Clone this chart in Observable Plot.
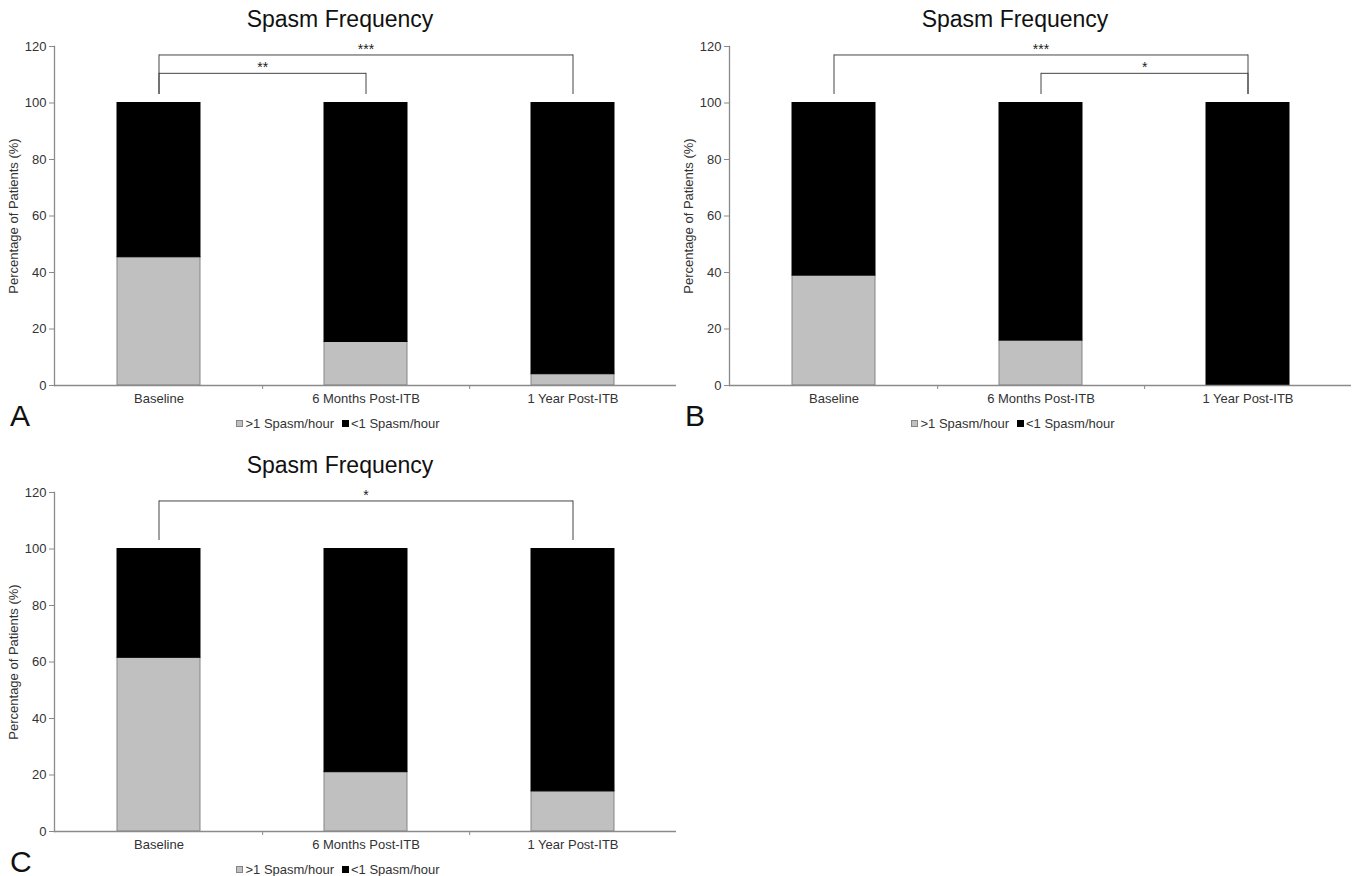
<!DOCTYPE html>
<html>
<head>
<meta charset="utf-8">
<script src="https://cdn.jsdelivr.net/npm/d3@7"></script>
<script src="https://cdn.jsdelivr.net/npm/@observablehq/plot@0.6"></script>
<style>
  html, body { margin: 0; padding: 0; background: #fff; }
  body { width: 1353px; height: 876px; position: relative; overflow: hidden;
         font-family: "Liberation Sans", Arial, sans-serif; color: #222; }
  .panel { position: absolute; width: 676px; height: 440px; }
  .title { position: absolute; left: 2px; top: 8px; width: 676px; text-align: center;
           font-size: 23px; line-height: 23px; color: #111; }
  .letter { position: absolute; left: 10px; top: 401px; font-size: 30px; line-height: 30px; color: #111; }
  .legend { position: absolute; left: 0; top: 415px; width: 676px; text-align: center;
            font-size: 13px; line-height: 18px; color: #333; }
  .legend .item { display: inline-block; margin: 0 4px; }
  .legend .sw { display: inline-block; width: 7px; height: 7px; margin-right: 2px; vertical-align: 1px; box-sizing: border-box; }
</style>
</head>
<body>
<script>
// ---- data ----
const categories = ["Baseline", "6 Months Post-ITB", "1 Year Post-ITB"];
const seriesNames = [">1 Spasm/hour", "<1 Spasm/hour"];
const yTicks = [0, 20, 40, 60, 80, 100, 120];
const titleText = "Spasm Frequency";
const yLabel = "Percentage of Patients (%)";

// Panel A
const aAbove = [45.4, 15.4, 4.0];
const aBelow = [54.6, 84.6, 96.0];
const aBrackets = [
  {from: "Baseline", to: "1 Year Post-ITB", y: 117, leg: 103, label: "***"},
  {from: "Baseline", to: "6 Months Post-ITB", y: 110.5, leg: 103, label: "**"}
];
// Panel B
const bAbove = [38.9, 15.9, 0];
const bBelow = [61.1, 84.1, 100];
const bBrackets = [
  {from: "Baseline", to: "1 Year Post-ITB", y: 117, leg: 103, label: "***"},
  {from: "6 Months Post-ITB", to: "1 Year Post-ITB", y: 110.5, leg: 103, label: "*"}
];
// Panel C
const cAbove = [61.5, 21.0, 14.2];
const cBelow = [38.5, 79.0, 85.8];
const cBrackets = [
  {from: "Baseline", to: "1 Year Post-ITB", y: 117, leg: 103, label: "*"}
];

// ---- styles ----
const seriesFill = {[seriesNames[0]]: "#c0c0c0", [seriesNames[1]]: "#000000"};
const seriesStroke = {[seriesNames[0]]: "#858585", [seriesNames[1]]: "#000000"};
const W = 676, H = 385, ML = 54, MR = 0, MT = 16, MB = 30;

function makePanel(left, top, letter, above, below, brackets) {
  const panel = document.createElement("div");
  panel.className = "panel";
  panel.style.left = left + "px";
  panel.style.top = top + "px";

  const title = document.createElement("div");
  title.className = "title";
  title.textContent = titleText;
  panel.appendChild(title);

  const rows = categories.flatMap((c, i) => [
    {cat: c, series: seriesNames[0], value: above[i]},
    {cat: c, series: seriesNames[1], value: below[i]}
  ]);

  const step = (W - ML - MR) / categories.length;
  const brk = brackets.map(b => {
    const i1 = categories.indexOf(b.from), i2 = categories.indexOf(b.to);
    const mid = (i1 + i2) / 2;
    return {...b, midCat: categories[Math.floor(mid)], half: mid !== Math.floor(mid)};
  });

  const chart = Plot.plot({
    width: W, height: H,
    marginLeft: ML, marginRight: MR, marginTop: MT, marginBottom: MB,
    style: {fontFamily: '"Liberation Sans", Arial, sans-serif', fontSize: "13px", color: "#333", background: "transparent", overflow: "visible"},
    x: {domain: categories, paddingInner: 0.6, paddingOuter: 0.3, label: null},
    y: {domain: [0, 120], label: null},
    marks: [
      Plot.barY(rows, {x: "cat", y: "value", fill: d => seriesFill[d.series], stroke: d => seriesStroke[d.series], strokeWidth: 1}),
      Plot.ruleY([0], {stroke: "#8a8a8a", strokeWidth: 1.3}),
      Plot.frame({anchor: "left", stroke: "#8a8a8a", strokeWidth: 1.3}),
      Plot.axisY({ticks: yTicks, tickSize: 5, tickPadding: 3, stroke: "#8a8a8a", fill: "#333",
                  label: yLabel, labelAnchor: "center", labelOffset: 46, labelArrow: "none"}),
      Plot.axisX({tickSize: 0, tickPadding: 8, label: null, fill: "#333"}),
      Plot.axisX({ticks: categories.slice(0, 2), tickSize: 4, tickFormat: () => "", dx: step / 2, stroke: "#8a8a8a", label: null}),
      // brackets
      Plot.link(brk, {x1: "from", x2: "to", y1: "y", y2: "y", stroke: "#444", strokeWidth: 1}),
      Plot.ruleX(brk, {x: "from", y1: "y", y2: "leg", stroke: "#444", strokeWidth: 1}),
      Plot.ruleX(brk, {x: "to", y1: "y", y2: "leg", stroke: "#444", strokeWidth: 1}),
      Plot.text(brk.filter(d => !d.half), {x: "midCat", y: "y", text: "label", dy: -1, lineAnchor: "bottom", fontSize: 14, fill: "#222"}),
      Plot.text(brk.filter(d => d.half), {x: "midCat", y: "y", text: "label", dx: step / 2, dy: -1, lineAnchor: "bottom", fontSize: 14, fill: "#222"})
    ]
  });
  chart.style.position = "absolute";
  chart.style.left = "0px";
  chart.style.top = "30px";
  panel.appendChild(chart);

  const let_ = document.createElement("div");
  let_.className = "letter";
  let_.textContent = letter;
  panel.appendChild(let_);

  const legend = document.createElement("div");
  legend.className = "legend";
  seriesNames.forEach(s => {
    const item = document.createElement("span");
    item.className = "item";
    const sw = document.createElement("span");
    sw.className = "sw";
    sw.style.background = seriesFill[s];
    sw.style.border = "1px solid " + seriesStroke[s];
    item.appendChild(sw);
    item.appendChild(document.createTextNode(s));
    legend.appendChild(item);
  });
  panel.appendChild(legend);

  document.body.appendChild(panel);
}

makePanel(0, 0, "A", aAbove, aBelow, aBrackets);
makePanel(675, 0, "B", bAbove, bBelow, bBrackets);
makePanel(0, 446, "C", cAbove, cBelow, cBrackets);
</script>
</body>
</html>
